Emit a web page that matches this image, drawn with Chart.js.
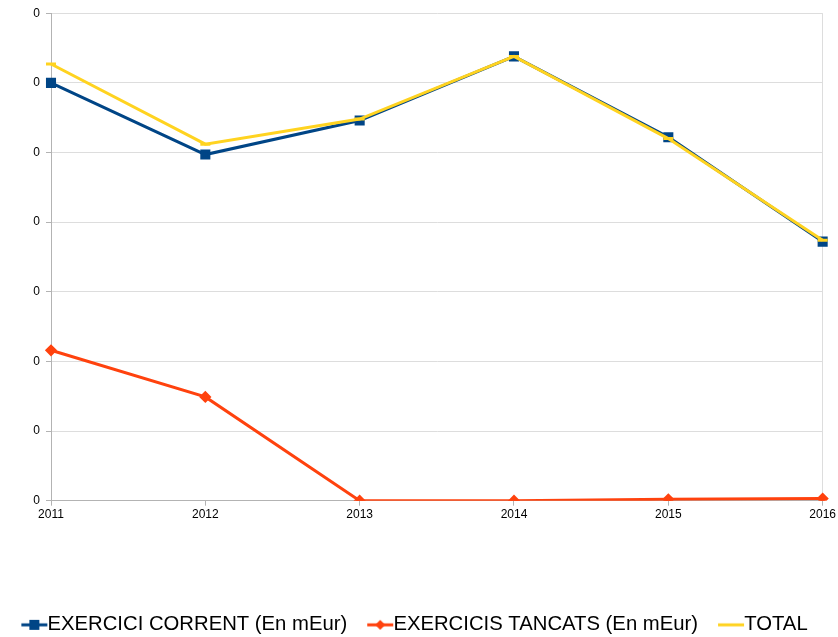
<!DOCTYPE html>
<html lang="ca">
<head>
    <meta charset="UTF-8">
    <script src="https://cdn.jsdelivr.net/npm/chart.js@4.4.0/dist/chart.umd.min.js"></script>
    <title>Exercicis</title>
    <style>
        html, body { margin: 0; padding: 0; background: #fff; }
        .box_chart { width: 838px; height: 637px; }
    </style>
</head>
<body>
    <div class="box_chart">
        <canvas id="chartExercicis"></canvas>
    </div>
<script>
    // dades llegides del gràfic
    var anys = ['2011', '2012', '2013', '2014', '2015', '2016'];
    var corrent = [6.0, 4.97, 5.46, 6.38, 5.22, 3.72];
    var tancats = [2.16, 1.49, 0, 0, 0.02, 0.03];
    var total = [6.27, 5.12, 5.48, 6.38, 5.2, 3.74];
    var yTicks = ['0', '0', '0', '0', '0', '0', '0', '0'];

    var blau = '#004586';
    var taronja = '#ff420e';
    var groc = '#ffd320';

    /* icona de la llegenda: línia + marcador */
    function legendIcon(color, marker) {
        var c = document.createElement('canvas');
        c.width = 70; c.height = 14;
        var g = c.getContext('2d');
        g.strokeStyle = color;
        g.fillStyle = color;
        g.lineWidth = 3;
        g.beginPath();
        g.moveTo(29, 7);
        g.lineTo(55, 7);
        g.stroke();
        if (marker == 'rect') {
            g.fillRect(37, 2, 10, 10);
        } else if (marker == 'diamond') {
            g.beginPath();
            g.moveTo(42, 2); g.lineTo(47, 7); g.lineTo(42, 12); g.lineTo(37, 7);
            g.closePath(); g.fill();
        }
        return c;
    }
    var icons = [legendIcon(blau, 'rect'), legendIcon(taronja, 'diamond'), legendIcon(groc, null)];

    var ctx = chartExercicis.getContext('2d');
    var myChart = new Chart(ctx, {
        type: 'line',
        data: {
            labels: anys,
            datasets: [{
                label: 'EXERCICI CORRENT (En mEur)',
                data: corrent,
                borderColor: blau,
                backgroundColor: blau,
                borderWidth: 3,
                pointStyle: 'rect',
                pointRadius: 5,
                pointHoverRadius: 5,
                tension: 0,
                order: 2
            }, {
                label: 'EXERCICIS TANCATS (En mEur)',
                data: tancats,
                borderColor: taronja,
                backgroundColor: taronja,
                borderWidth: 3,
                pointStyle: 'rectRot',
                pointRadius: 4,
                pointHoverRadius: 4,
                tension: 0,
                order: 1
            }, {
                label: 'TOTAL',
                data: total,
                borderColor: groc,
                backgroundColor: groc,
                borderWidth: 3,
                pointStyle: 'line',
                pointRadius: 5,
                pointBorderWidth: 3,
                pointHoverRadius: 5,
                tension: 0,
                order: 0
            }]
        },
        options: {
            responsive: true,
            maintainAspectRatio: false,
            animation: false,
            layout: {
                padding: { left: 0, right: 13, top: 8, bottom: -8 }
            },
            plugins: {
                tooltip: { enabled: false },
                legend: {
                    position: 'bottom',
                    labels: {
                        usePointStyle: true,
                        pointStyleWidth: 20,
                        boxHeight: 14,
                        padding: 16,
                        color: '#000',
                        font: { family: 'Liberation Sans', size: 20.3 },
                        generateLabels: function (chart) {
                            return chart.data.datasets.map(function (ds, i) {
                                return {
                                    text: ds.label,
                                    pointStyle: icons[i],
                                    fillStyle: ds.borderColor,
                                    strokeStyle: ds.borderColor,
                                    lineWidth: 0,
                                    hidden: false,
                                    datasetIndex: i
                                };
                            });
                        }
                    }
                }
            },
            scales: {
                x: {
                    grid: {
                        drawOnChartArea: true,
                        color: function (c) { return c.index == anys.length - 1 ? '#dddddd' : 'rgba(0,0,0,0)'; },
                        tickColor: '#b3b3b3',
                        tickLength: 5
                    },
                    border: { color: '#b3b3b3', width: 1 },
                    ticks: {
                        color: '#000',
                        font: { family: 'Liberation Sans', size: 12 },
                        maxRotation: 0,
                        padding: 2
                    },
                    afterFit: function (axis) { axis.height = 98; }
                },
                y: {
                    min: 0,
                    max: 7,
                    grid: {
                        color: '#dddddd',
                        tickColor: '#b3b3b3',
                        tickLength: 5
                    },
                    border: { color: '#b3b3b3', width: 1 },
                    ticks: {
                        stepSize: 1,
                        color: '#000',
                        padding: 6,
                        font: { family: 'Liberation Sans', size: 12 },
                        callback: function (v, i) { return yTicks[i]; }
                    },
                    afterFit: function (axis) { axis.width = 51; }
                }
            }
        }
    });
</script>
</body>
</html>
